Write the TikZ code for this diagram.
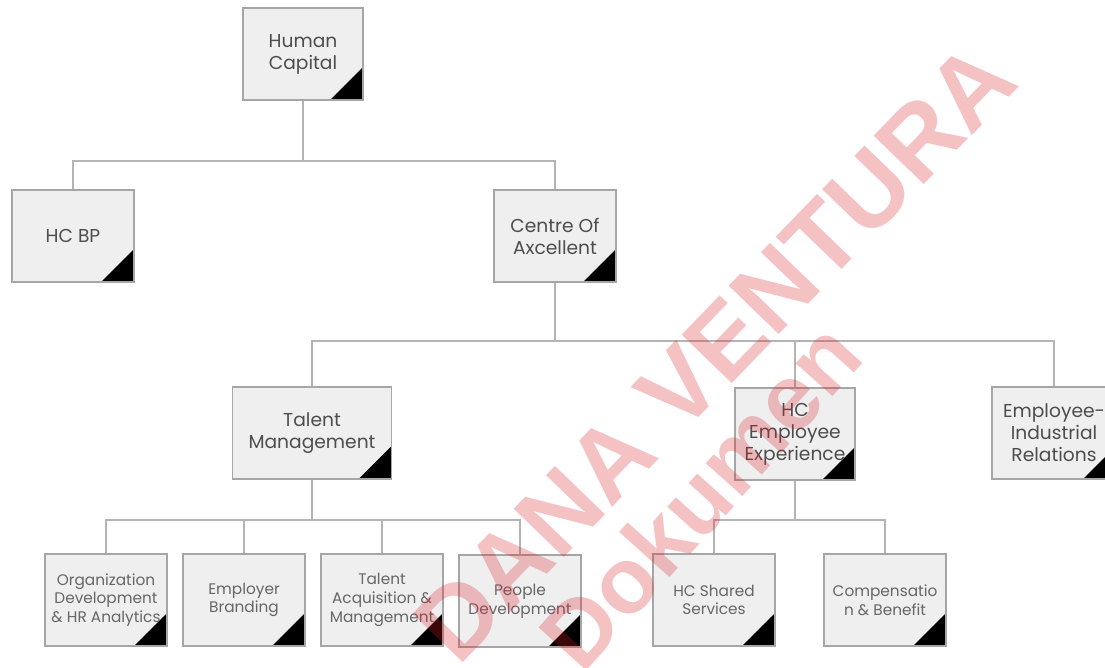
\documentclass[tikz,border=0pt]{standalone}
\usepackage{fontspec}
\setmainfont{Poppins}
\newfontfamily\wmfont{Liberation Sans}
\definecolor{boxfill}{HTML}{EFEFEF}
\definecolor{boxline}{HTML}{A6A6A6}
\definecolor{conn}{HTML}{B4B4B4}
\definecolor{txt}{HTML}{4D4D4D}
\definecolor{txtlow}{HTML}{666666}
\definecolor{wmred}{HTML}{DC1E28}
\tikzset{
  orgbox/.style={draw=boxline, line width=0.8pt, fill=boxfill, rectangle,
    minimum width=#1*0.75pt, minimum height=92*0.75pt, inner sep=0pt,
    align=center, text=txt, font=\fontsize{14}{16.5}\selectfont,
    path picture={\fill[black] (path picture bounding box.south east) -- ++(-33,0) -- ++(33,-33) -- cycle;}},
  orgbox/.default=122,
  lowbox/.style={orgbox, text=txtlow, font=\fontsize{11.5}{14}\selectfont},
  link/.style={draw=conn, line width=0.8pt},
  wm/.style={text=wmred, opacity=0.27, font=\wmfont\bfseries}
}
\begin{document}
\begin{tikzpicture}[x=0.75pt,y=-0.75pt]
\useasboundingbox (0,0) rectangle (1105,667);
\clip (0,0) rectangle (1105,667);
\fill[white] (0,0) rectangle (1105,667);

% level 0
\node[orgbox=120] (hc) at (303,54) {Human\\Capital};
% level 1
\node[orgbox] (hcbp) at (73,236) {HC BP};
\node[orgbox] (coe) at (555,236) {Centre Of\\Axcellent};
% level 2
\node[orgbox=159] (tm) at (312,433) {Talent\\Management};
\node[orgbox=120] (hcee) at (795,434) {HC\\Employee\\Experience};
\node[orgbox=124] (eir) at (1054,433) {Employee-\\Industrial\\Relations};
% level 3
\node[lowbox] (od) at (106,600) {Organization\\Development\\\& HR Analytics};
\node[lowbox] (eb) at (244,600) {Employer\\Branding};
\node[lowbox] (ta) at (382,600) {Talent\\Acquisition \&\\Management};
\node[lowbox] (pd) at (520,601) {People\\Development};
\node[lowbox] (ss) at (714,600) {HC Shared\\Services};
\node[lowbox] (cb) at (885,600) {Compensatio\\n \& Benefit};

% buses
\coordinate (bus1) at (303,161);
\coordinate (bus2) at (555,341);
\coordinate (bus3) at (312,520);
\coordinate (bus4) at (795,520);

\draw[link] (hc.south) -- (bus1);
\draw[link] (hcbp.north) |- (bus1) -| (coe.north);
\draw[link] (coe.south) -- (bus2);
\draw[link] (tm.north) |- (bus2) -| (eir.north);
\draw[link] (hcee.north) -- (hcee.north |- bus2);
\draw[link] (tm.south) -- (bus3);
\draw[link] (od.north) |- (bus3) -| (pd.north);
\draw[link] (eb.north) -- (eb.north |- bus3);
\draw[link] (ta.north) -- (ta.north |- bus3);
\draw[link] (hcee.south) -- (bus4);
\draw[link] (ss.north) |- (bus4) -| (cb.north);

% watermark
\node[wm, rotate=46, font=\wmfont\bfseries\fontsize{76}{80}\selectfont] (wm1) at (715,352) {DANA VENTURA};
\node[wm, rotate=48, font=\wmfont\bfseries\fontsize{70}{74}\selectfont] (wm2) at (700,495) {Dokumen};
\end{tikzpicture}
\end{document}
